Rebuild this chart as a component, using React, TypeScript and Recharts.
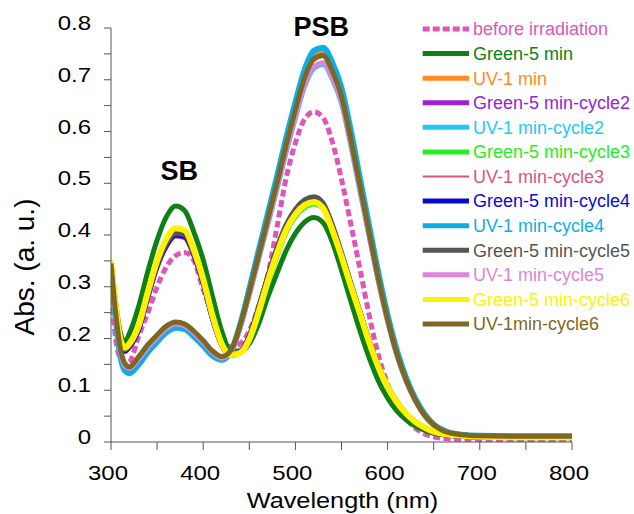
import React from 'react';
import { LineChart, Line, XAxis, YAxis, Legend, ReferenceDot } from 'recharts';

const FONT = '"Liberation Sans", Arial, Helvetica, sans-serif';

// Wavelength grid (nm)
const wavelength = [300, 305, 310, 315, 320, 330, 340, 350, 360, 370,
  380, 390, 400, 410, 420, 430, 440, 450, 460, 470,
  480, 490, 500, 510, 520, 530, 540, 550, 560, 570,
  580, 590, 600, 610, 620, 630, 640, 650, 660, 680,
  700, 750, 800];

const beforeIrradiation = [0.30, 0.20, 0.162, 0.152, 0.155, 0.205, 0.25, 0.30, 0.338, 0.36,
  0.366, 0.35, 0.295, 0.245, 0.203, 0.184, 0.19, 0.215, 0.262, 0.322,
  0.415, 0.51, 0.578, 0.624, 0.638, 0.627, 0.58, 0.508, 0.422, 0.335,
  0.245, 0.168, 0.112, 0.072, 0.045, 0.027, 0.016, 0.01, 0.007, 0.005,
  0.005, 0.005, 0.005];

const green5min = [0.348, 0.27, 0.212, 0.193, 0.21, 0.262, 0.33, 0.39, 0.435, 0.456,
  0.447, 0.405, 0.352, 0.282, 0.215, 0.176, 0.176, 0.19, 0.228, 0.28,
  0.326, 0.37, 0.403, 0.425, 0.434, 0.424, 0.387, 0.332, 0.273, 0.215,
  0.163, 0.118, 0.085, 0.06, 0.043, 0.031, 0.023, 0.017, 0.014, 0.011,
  0.009, 0.008, 0.008];

const uv1min = [0.345, 0.25, 0.18, 0.15, 0.144, 0.163, 0.186, 0.205, 0.222, 0.231,
  0.227, 0.213, 0.195, 0.175, 0.164, 0.176, 0.224, 0.29, 0.361, 0.432,
  0.503, 0.577, 0.646, 0.708, 0.745, 0.752, 0.721, 0.671, 0.589, 0.497,
  0.406, 0.317, 0.238, 0.172, 0.12, 0.081, 0.052, 0.033, 0.022, 0.014,
  0.012, 0.011, 0.011];

const green5minC2 = [0.342, 0.255, 0.19, 0.175, 0.183, 0.216, 0.28, 0.338, 0.378, 0.398,
  0.395, 0.36, 0.306, 0.238, 0.187, 0.167, 0.174, 0.203, 0.257, 0.317,
  0.371, 0.416, 0.445, 0.463, 0.469, 0.457, 0.415, 0.362, 0.305, 0.25,
  0.194, 0.146, 0.107, 0.077, 0.054, 0.038, 0.027, 0.019, 0.015, 0.011,
  0.01, 0.009, 0.009];

const uv1minC2 = [0.34, 0.245, 0.175, 0.145, 0.14, 0.158, 0.18, 0.2, 0.217, 0.226,
  0.222, 0.208, 0.19, 0.171, 0.161, 0.173, 0.22, 0.284, 0.352, 0.42,
  0.488, 0.56, 0.626, 0.687, 0.722, 0.73, 0.701, 0.654, 0.574, 0.485,
  0.397, 0.31, 0.233, 0.168, 0.118, 0.08, 0.051, 0.032, 0.021, 0.013,
  0.011, 0.01, 0.01];

const green5minC3 = [0.35, 0.266, 0.202, 0.184, 0.193, 0.228, 0.292, 0.35, 0.39, 0.41,
  0.407, 0.37, 0.318, 0.25, 0.194, 0.17, 0.171, 0.195, 0.244, 0.302,
  0.356, 0.403, 0.434, 0.452, 0.459, 0.45, 0.41, 0.36, 0.305, 0.25,
  0.197, 0.148, 0.11, 0.08, 0.057, 0.041, 0.029, 0.021, 0.016, 0.012,
  0.011, 0.01, 0.01];

const uv1minC3 = [0.343, 0.248, 0.179, 0.149, 0.143, 0.162, 0.185, 0.204, 0.221, 0.229,
  0.225, 0.211, 0.194, 0.174, 0.163, 0.175, 0.222, 0.287, 0.356, 0.426,
  0.496, 0.569, 0.637, 0.699, 0.736, 0.744, 0.714, 0.665, 0.583, 0.493,
  0.403, 0.314, 0.236, 0.17, 0.119, 0.08, 0.051, 0.032, 0.021, 0.013,
  0.011, 0.01, 0.01];

const green5minC4 = [0.343, 0.257, 0.192, 0.176, 0.184, 0.218, 0.281, 0.34, 0.38, 0.4,
  0.397, 0.361, 0.307, 0.239, 0.188, 0.168, 0.174, 0.204, 0.258, 0.318,
  0.372, 0.417, 0.446, 0.464, 0.47, 0.458, 0.416, 0.363, 0.306, 0.251,
  0.195, 0.146, 0.107, 0.077, 0.054, 0.038, 0.027, 0.019, 0.015, 0.011,
  0.01, 0.009, 0.009];

const uv1minC4 = [0.34, 0.24, 0.168, 0.138, 0.133, 0.15, 0.174, 0.194, 0.212, 0.221,
  0.218, 0.204, 0.186, 0.167, 0.159, 0.174, 0.226, 0.295, 0.368, 0.44,
  0.512, 0.587, 0.656, 0.719, 0.756, 0.762, 0.733, 0.684, 0.602, 0.509,
  0.417, 0.326, 0.245, 0.177, 0.124, 0.084, 0.054, 0.034, 0.023, 0.014,
  0.012, 0.011, 0.011];

const green5minC5 = [0.345, 0.26, 0.195, 0.178, 0.186, 0.22, 0.283, 0.342, 0.383, 0.403,
  0.4, 0.362, 0.308, 0.24, 0.188, 0.168, 0.175, 0.205, 0.26, 0.32,
  0.375, 0.42, 0.45, 0.468, 0.474, 0.462, 0.42, 0.366, 0.308, 0.252,
  0.196, 0.147, 0.108, 0.078, 0.055, 0.039, 0.028, 0.02, 0.016, 0.012,
  0.01, 0.009, 0.009];

const uv1minC5 = [0.342, 0.247, 0.177, 0.147, 0.142, 0.16, 0.183, 0.202, 0.219, 0.228,
  0.224, 0.21, 0.192, 0.173, 0.162, 0.174, 0.221, 0.285, 0.354, 0.422,
  0.491, 0.563, 0.63, 0.69, 0.725, 0.733, 0.704, 0.657, 0.577, 0.488,
  0.399, 0.312, 0.234, 0.169, 0.118, 0.08, 0.051, 0.032, 0.021, 0.013,
  0.011, 0.01, 0.01];

const green5minC6 = [0.35, 0.265, 0.2, 0.182, 0.19, 0.225, 0.29, 0.35, 0.392, 0.413,
  0.409, 0.37, 0.315, 0.245, 0.19, 0.168, 0.172, 0.198, 0.25, 0.31,
  0.364, 0.41, 0.44, 0.458, 0.464, 0.452, 0.41, 0.358, 0.302, 0.248,
  0.193, 0.145, 0.107, 0.077, 0.055, 0.039, 0.028, 0.02, 0.016, 0.012,
  0.01, 0.009, 0.009];

const uv1minC6 = [0.345, 0.25, 0.182, 0.152, 0.145, 0.165, 0.188, 0.207, 0.224, 0.232,
  0.228, 0.214, 0.196, 0.176, 0.165, 0.177, 0.225, 0.29, 0.36, 0.43,
  0.5, 0.574, 0.642, 0.704, 0.74, 0.747, 0.717, 0.668, 0.586, 0.495,
  0.405, 0.316, 0.237, 0.171, 0.12, 0.081, 0.052, 0.033, 0.022, 0.014,
  0.012, 0.011, 0.011];

const seriesNames = [
  'before irradiation', 'Green-5 min', 'UV-1 min', 'Green-5 min-cycle2', 'UV-1 min-cycle2',
  'Green-5 min-cycle3', 'UV-1 min-cycle3', 'Green-5 min-cycle4', 'UV-1 min-cycle4',
  'Green-5 min-cycle5', 'UV-1 min-cycle5', 'Green-5 min-cycle6', 'UV-1min-cycle6',
];

const seriesValues = [
  beforeIrradiation, green5min, uv1min, green5minC2, uv1minC2, green5minC3, uv1minC3,
  green5minC4, uv1minC4, green5minC5, uv1minC5, green5minC6, uv1minC6,
];

const xTicks = [300, 350, 400, 450, 500, 550, 600, 650, 700, 750, 800];
const xTickLabels = [300, 400, 500, 600, 700, 800];
const yTicks = [0, 0.05, 0.1, 0.15, 0.2, 0.25, 0.3, 0.35, 0.4, 0.45, 0.5, 0.55, 0.6, 0.65, 0.7, 0.75, 0.8];
const yTickLabels = ['0', '0.1', '0.2', '0.3', '0.4', '0.5', '0.6', '0.7', '0.8'];

// styles (kept apart from the data)
const seriesColors = ['#E055B8', '#0E8014', '#FF8A24', '#9B20D6', '#1FC8F8', '#22F020', '#DA5580',
  '#0A0ACF', '#0FADE6', '#555555', '#DC85DA', '#FFF200', '#7C6820'];
const seriesWidths = [5, 5, 5, 5, 5, 4, 2, 5, 6, 5, 5, 6, 5];
const legendWidths = [5, 5, 5, 5, 5, 5, 2, 5, 5, 5, 5, 5, 5];

const keys = seriesNames.map((_, i) => 's' + i);
const data = wavelength.map((w, i) => {
  const row: Record<string, number> = { wl: w };
  keys.forEach((k, j) => { row[k] = seriesValues[j][i]; });
  return row;
});

const stretch = (x: number, s: number) => `translate(${x} 0) scale(${s} 1) translate(${-x} 0)`;

const XTick = (props: any) => {
  const { x, y, payload } = props;
  if (!xTickLabels.includes(payload.value)) return <g />;
  const cx = x - 3;
  return (
    <text x={cx} y={y} dy="0.71em" textAnchor="middle" fontSize={20} fill="#000" fontFamily={FONT}
      transform={stretch(cx, 1.2)}>
      {payload.value}
    </text>
  );
};

const YTick = (props: any) => {
  const { x, y, payload } = props;
  const lbl = String(Math.round(payload.value * 100) / 100);
  if (!yTickLabels.includes(lbl)) return <g />;
  return (
    <text x={x} y={y - 5} dy="0.355em" textAnchor="end" fontSize={20} fill="#000" fontFamily={FONT}
      transform={stretch(x, 1.2)}>
      {lbl}
    </text>
  );
};

const XTitle = () => (
  <text x={342.5} y={508} textAnchor="middle" fontSize={22} fill="#000" fontFamily={FONT}
    transform={stretch(342.5, 1.15)}>
    Wavelength (nm)
  </text>
);

const YTitle = () => (
  <text x={34} y={267} transform="rotate(-90 34 267)" textAnchor="middle" fontSize={28} fill="#000" fontFamily={FONT}>
    Abs. (a. u.)
  </text>
);

const LegendContent = () => (
  <svg width={216} height={320} style={{ overflow: 'visible', display: 'block' }}>
    {seriesNames.map((name, i) => {
      const cy = 12 + i * 24.58;
      return (
        <g key={name}>
          <line x1={4.7} x2={51} y1={cy} y2={cy} stroke={seriesColors[i]} strokeWidth={legendWidths[i]}
            strokeDasharray={i === 0 ? '7 3' : undefined} />
          <text x={55} y={cy} dy="0.355em" fontSize={18} fill={seriesColors[i]} fontFamily={FONT}>{name}</text>
        </g>
      );
    })}
  </svg>
);

const peakLabel = (text: string) => (props: any) => {
  const vb = props.viewBox || {};
  const cx = (vb.x || 0) + (vb.width || 0) / 2;
  const cy = (vb.y || 0) + (vb.height || 0) / 2;
  return (
    <text x={cx} y={cy} dy="0.355em" textAnchor="middle" fontSize={27} fontWeight="bold" fill="#000" fontFamily={FONT}>
      {text}
    </text>
  );
};

export default function App() {
  return (
    <div style={{ position: 'absolute', left: 0, top: 0, width: 634, height: 514, background: '#fff' }}>
      <LineChart width={634} height={514} data={data} margin={{ top: 28, right: 62, bottom: 0, left: 0 }}>
        <XAxis dataKey="wl" type="number" domain={[300, 800]} ticks={xTicks} interval={0}
          height={72} tickSize={8} tickMargin={16} tick={<XTick />}
          stroke="#555" axisLine={{ stroke: '#555' }} tickLine={{ stroke: '#555' }}
          label={XTitle} allowDataOverflow />
        <YAxis type="number" domain={[0, 0.8]} ticks={yTicks} interval={0}
          width={111} tickSize={7} tickMargin={13} tick={<YTick />}
          stroke="#555" axisLine={{ stroke: '#555' }} tickLine={{ stroke: '#555' }}
          label={YTitle} allowDataOverflow />
        {keys.map((k, i) => (
          <Line key={k} dataKey={k} name={seriesNames[i]} type="monotone" stroke={seriesColors[i]}
            strokeWidth={seriesWidths[i]} strokeDasharray={i === 0 ? '7 3.5' : undefined}
            dot={false} activeDot={false} isAnimationActive={false} />
        ))}
        <ReferenceDot x={374} y={0.525} r={1} fill="none" stroke="none" ifOverflow="visible" label={peakLabel('SB')} />
        <ReferenceDot x={528} y={0.803} r={1} fill="none" stroke="none" ifOverflow="visible" label={peakLabel('PSB')} />
        <Legend layout="vertical" align="center" verticalAlign="middle" content={<LegendContent />}
          wrapperStyle={{ left: 418, top: 17, width: 216, height: 320 }} />
      </LineChart>
    </div>
  );
}
